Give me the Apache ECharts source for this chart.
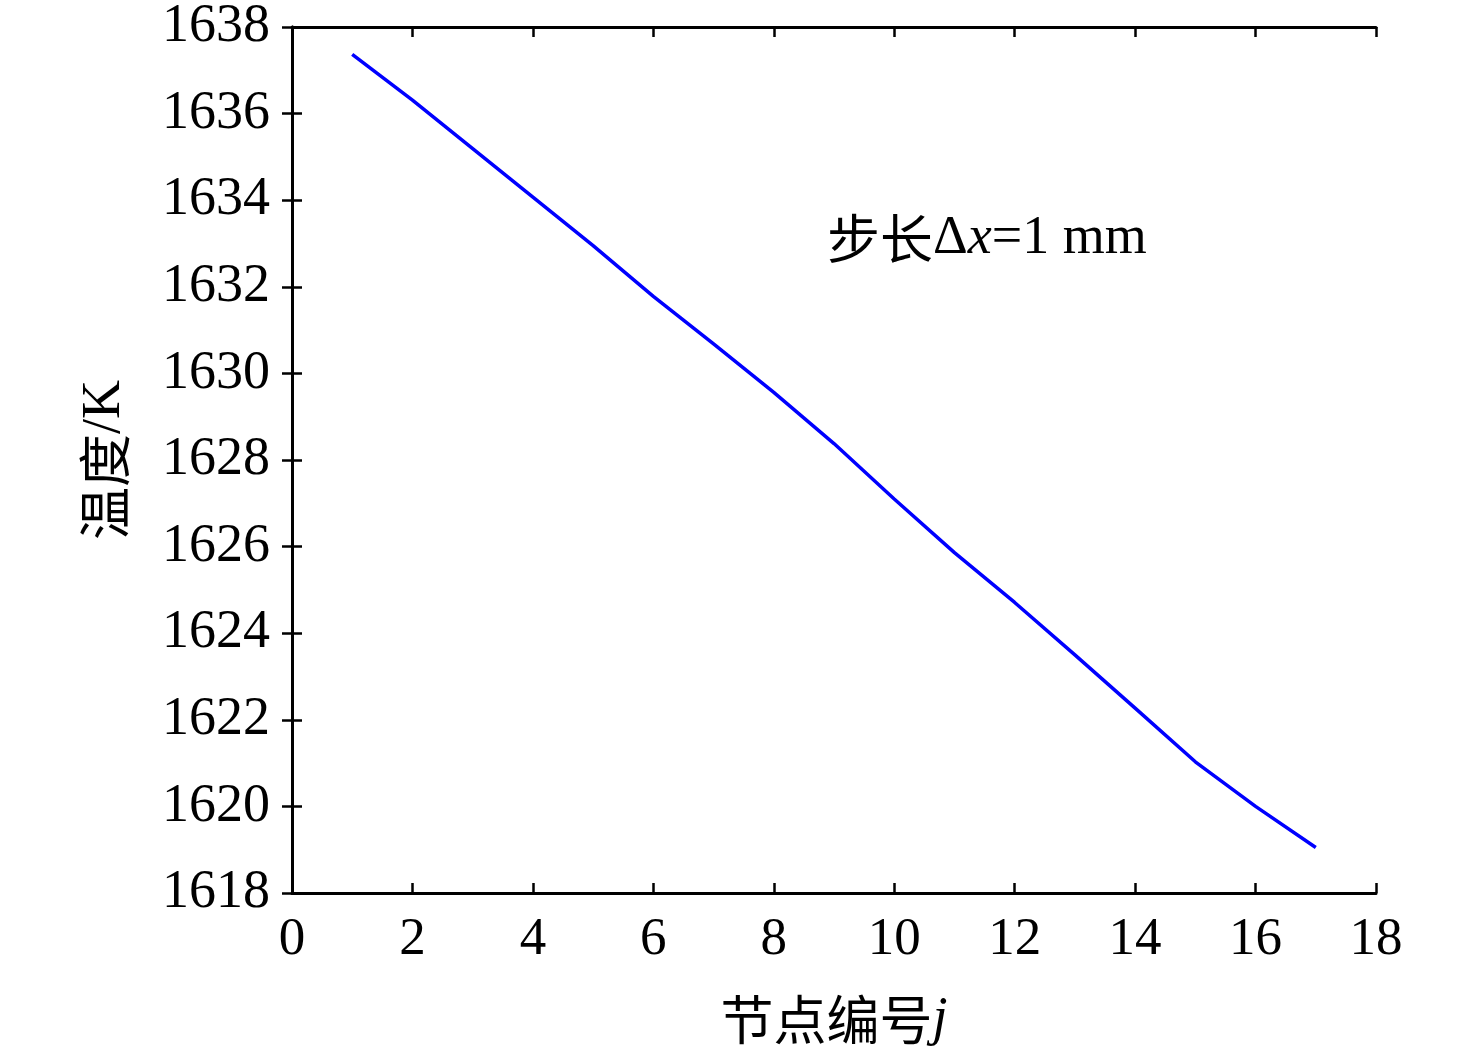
<!DOCTYPE html>
<html>
<head>
<meta charset="utf-8">
<script src="https://cdn.jsdelivr.net/npm/echarts@6/dist/echarts.min.js"></script>
<style>
html,body{margin:0;padding:0;background:#fff;}
#chart{width:1476px;height:1059px;}
</style>
</head>
<body>
<div id="chart"></div>
<script>
// 节点编号与温度
var nodes = [1, 2, 3, 4, 5, 6, 7, 8, 9, 10, 11, 12, 13, 14, 15, 16, 17];
var temps = [1637.37, 1636.31, 1635.19, 1634.07, 1632.95, 1631.78, 1630.68, 1629.56, 1628.38,
             1627.10, 1625.86, 1624.71, 1623.50, 1622.27, 1621.03, 1620.00, 1619.05];
var xTicks = [0, 18, 2];      // min, max, interval
var yTicks = [1618, 1638, 2];

var serif = '"Liberation Serif","Times New Roman","Noto Sans CJK SC",serif';
var cjk = '"Noto Sans CJK SC","Liberation Serif",serif';

var myChart = echarts.init(document.getElementById('chart'));

var tickStyle = {show: true, inside: true, length: 10, lineStyle: {color: '#000', width: 2.5}};
var lineStyle = {show: true, lineStyle: {color: '#000', width: 3}};

var data = [];
for (var i = 0; i < nodes.length; i++) {
    data.push([nodes[i], temps[i]]);
}

function plain(v) { return String(v); }

var options = {
    animation: false,
    backgroundColor: '#fff',
    grid: {left: 292, right: 100, top: 27, bottom: 166},
    xAxis: [
        {
            type: 'value', min: xTicks[0], max: xTicks[1], interval: xTicks[2],
            axisLine: lineStyle, axisTick: tickStyle, splitLine: {show: false},
            axisLabel: {color: '#000', fontFamily: serif, fontSize: 53, margin: 21, formatter: plain},
            name: '{c|节点编号}{i|j}',
            nameLocation: 'middle',
            nameGap: 100,
            nameTextStyle: {
                rich: {
                    c: {fontFamily: cjk, fontSize: 53, color: '#000'},
                    i: {fontFamily: serif, fontStyle: 'italic', fontSize: 54, color: '#000'}
                }
            }
        },
        {
            type: 'value', position: 'top', min: xTicks[0], max: xTicks[1], interval: xTicks[2],
            axisLine: lineStyle, axisTick: tickStyle, axisLabel: {show: false}, splitLine: {show: false}
        }
    ],
    yAxis: [
        {
            type: 'value', min: yTicks[0], max: yTicks[1], interval: yTicks[2],
            axisLine: lineStyle, axisTick: tickStyle, splitLine: {show: false},
            axisLabel: {color: '#000', fontFamily: serif, fontSize: 54, margin: 22, formatter: plain},
            name: '{c|温度}{k|/K}',
            nameLocation: 'middle',
            nameGap: 160,
            nameRotate: 90,
            nameTextStyle: {
                rich: {
                    c: {fontFamily: cjk, fontSize: 53, color: '#000'},
                    k: {fontFamily: serif, fontSize: 54, color: '#000'}
                }
            }
        },
        {
            type: 'value', position: 'right', min: yTicks[0], max: yTicks[1], interval: yTicks[2],
            axisLine: lineStyle, axisTick: tickStyle, axisLabel: {show: false}, splitLine: {show: false}
        }
    ],
    graphic: [
        {
            type: 'text',
            left: 827,
            top: 212,
            style: {
                text: '{c|步长}{n|Δ}{i|x}{n|=1 mm}',
                rich: {
                    c: {fontFamily: cjk, fontSize: 53, fill: '#000'},
                    n: {fontFamily: serif, fontSize: 54, fill: '#000'},
                    i: {fontFamily: serif, fontStyle: 'italic', fontSize: 54, fill: '#000'}
                }
            }
        }
    ],
    series: [
        {
            type: 'line',
            data: data,
            showSymbol: false,
            lineStyle: {color: '#0000ff', width: 3.5},
            itemStyle: {color: '#0000ff'}
        }
    ]
};
myChart.setOption(options);
</script>
</body>
</html>
